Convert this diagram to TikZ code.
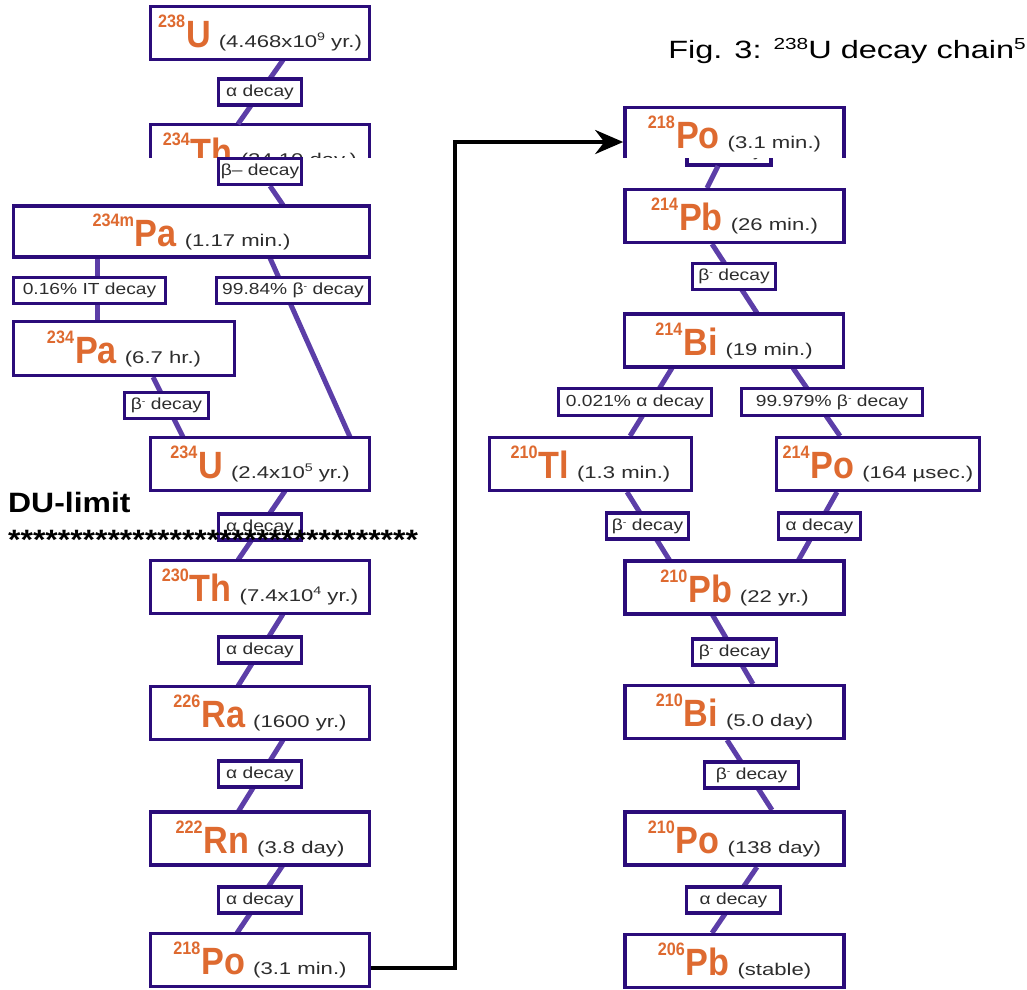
\documentclass[tikz,border=0pt]{standalone}
\usepackage{fontspec}
\setmainfont{Liberation Sans}
\newfontfamily\elfont[FakeStretch=0.9]{Liberation Sans}
\newfontfamily\hlfont[FakeStretch=1.3]{Liberation Sans}
\newfontfamily\lbfont[FakeStretch=1.2]{Liberation Sans}
\newfontfamily\ttlfont[FakeStretch=1.3]{Liberation Sans}
\newfontfamily\dufont[FakeStretch=1.14]{Liberation Sans}
\usetikzlibrary{arrows.meta}
\definecolor{boxc}{RGB}{43,12,122}
\definecolor{conc}{RGB}{92,62,168}
\definecolor{orng}{RGB}{222,106,48}
\definecolor{txtc}{RGB}{45,45,45}
\newcommand{\isot}[3]{{\color{orng}\elfont\bfseries\fontsize{18}{18}\selectfont\raisebox{20pt}{#1}\hspace{1pt}\fontsize{38}{38}\selectfont #2}\hspace{8pt}{\color{txtc}\hlfont\fontsize{17}{17}\selectfont #3}}
\newcommand{\hlsup}[1]{\raisebox{7pt}{\fontsize{11}{11}\selectfont #1}}
\newcommand{\betam}{β\raisebox{5pt}{\fontsize{9}{9}\selectfont -}}
\tikzset{
  iso/.style={draw=boxc, line width=3.6pt, fill=white, minimum height=53pt, minimum width=219pt, inner sep=0pt},
  lab/.style={draw=boxc, line width=3.6pt, fill=white, minimum height=26pt, inner sep=0pt, text=txtc, font=\lbfont\fontsize{16}{16}\selectfont},
  con/.style={draw=conc, line width=5pt},
  x=1pt, y=-1pt
}
\begin{document}
\begin{tikzpicture}
\useasboundingbox (0,0) rectangle (1027,989);
% ---------- cut-off (pasted) boxes ----------
\begin{scope}
\clip (130,100) rectangle (390,157.5);
\node[iso] (th234) at (260,151) {\isot{234}{Th}{(24.10 day.)}};
\end{scope}
\begin{scope}
\clip (600,157.5) rectangle (800,180);
\node[lab, minimum width=84pt] (lbpo) at (729,152) {α decay};
\end{scope}
\begin{scope}
\clip (600,95) rectangle (870,157.5);
\node[iso] (po218r) at (734.5,134) {\isot{218}{Po}{(3.1 min.)}};
\end{scope}

% connectors (drawn before the boxes that cover their ends)
\draw[con] (283,60) -- (238,124);
\draw[con] (270,186) -- (283,205);
\draw[con] (97,258) -- (97,320);
\draw[con] (270,258) -- (350,437);
\draw[con] (153,377) -- (183,437);
\draw[con] (285,491) -- (238,560);
\draw[con] (283,614) -- (238,686);
\draw[con] (283,740) -- (238,812);
\draw[con] (283,865) -- (237,933);
\draw[con] (718,166) -- (707,188);
\draw[con] (712,244) -- (757,313);
\draw[con] (672,368) -- (630,436);
\draw[con] (793,368) -- (840,436);
\draw[con] (627,492) -- (670,561);
\draw[con] (837,492) -- (798,561);
\draw[con] (712,614) -- (753,684);
\draw[con] (727,740) -- (772,810);
\draw[con] (757,867) -- (712,933);

% left column
\node[iso] (u238) at (260,33) {\isot{238}{U}{(4.468x10\hlsup{9} yr.)}};
\node[lab, minimum width=83pt] (lb1) at (260,92) {α decay};
\node[lab, minimum width=83pt] (lb2) at (260,171.5) {β– decay};
\node[iso, minimum width=356pt, minimum height=51pt] (pa234m) at (191.5,231.5) {\isot{234m}{Pa}{(1.17 min.)}};
\node[lab, minimum width=152pt] (lb3) at (89.5,290.5) {0.16\% IT decay};
\node[lab, minimum width=153pt] (lb4) at (293,290.5) {99.84\% \betam{} decay};
\node[iso, minimum width=221pt, minimum height=54pt] (pa234) at (124,348.5) {\isot{234}{Pa}{(6.7 hr.)}};
\node[lab, minimum width=84pt] (lb5) at (166.5,405.5) {\betam{} decay};
\node[iso] (u234) at (260,464) {\isot{234}{U}{(2.4x10\hlsup{5} yr.)}};
\node[lab, minimum width=83pt] (lb6) at (260,527) {α decay};
\node[iso] (th230) at (260,587) {\isot{230}{Th}{(7.4x10\hlsup{4} yr.)}};
\node[lab, minimum width=83pt] (lb7) at (260,650) {α decay};
\node[iso] (ra226) at (260,713) {\isot{226}{Ra}{(1600 yr.)}};
\node[lab, minimum width=83pt] (lb8) at (260,774) {α decay};
\node[iso] (rn222) at (260,838.5) {\isot{222}{Rn}{(3.8 day)}};
\node[lab, minimum width=83pt] (lb9) at (260,900) {α decay};
\node[iso] (po218l) at (260,960) {\isot{218}{Po}{(3.1 min.)}};

% right column
\node[iso] (pb214) at (734.5,216) {\isot{214}{Pb}{(26 min.)}};
\node[lab, minimum width=83pt] (lr1) at (734,276.5) {\betam{} decay};
\node[iso] (bi214) at (734,340.5) {\isot{214}{Bi}{(19 min.)}};
\node[lab, minimum width=153pt, minimum height=27pt] (lr2) at (635,402) {0.021\% α decay};
\node[lab, minimum width=181pt, minimum height=27pt] (lr3) at (832,402) {99.979\% \betam{} decay};
\node[iso, minimum width=202pt] (tl210) at (590.5,464) {\isot{210}{Tl}{(1.3 min.)}};
\node[iso, minimum width=203pt] (po214) at (878,464) {\isot{214}{Po}{(164 µsec.)}};
\node[lab, minimum width=82pt] (lr4) at (647.5,526) {\betam{} decay};
\node[lab, minimum width=82pt] (lr5) at (819.5,526) {α decay};
\node[iso] (pb210) at (734.5,587.5) {\isot{210}{Pb}{(22 yr.)}};
\node[lab, minimum width=84pt] (lr6) at (734.5,652) {\betam{} decay};
\node[iso] (bi210) at (734.5,712) {\isot{210}{Bi}{(5.0 day)}};
\node[lab, minimum width=94pt] (lr7) at (751.5,775) {\betam{} decay};
\node[iso] (po210) at (734.5,838.5) {\isot{210}{Po}{(138 day)}};
\node[lab, minimum width=94pt] (lr8) at (733.5,900) {α decay};
\node[iso] (pb206) at (734.5,961) {\isot{206}{Pb}{(stable)}};

% black transfer arrow
\draw[line width=4pt, -{Stealth[length=28pt,width=24pt]}] ([yshift=-8pt]po218l.east) -- ++(84,0) |- ([yshift=-8pt]po218r.west);

% DU limit
\node[anchor=base west, inner sep=0pt, font=\dufont\bfseries\fontsize{28}{28}\selectfont] (du) at (8,512) {DU-limit};
\node[anchor=base west, inner sep=0pt, font=\dufont\bfseries\fontsize{28}{28}\selectfont] (stars) at (8,549) {*********************************};

% title
\node[anchor=base east, inner sep=0pt, font=\ttlfont\fontsize{25}{25}\selectfont] (title) at (1026,58) {Fig. 3:\hspace{12pt}\raisebox{9pt}{\fontsize{16}{16}\selectfont 238}U decay chain\raisebox{9pt}{\fontsize{16}{16}\selectfont 5}};
\end{tikzpicture}
\end{document}
